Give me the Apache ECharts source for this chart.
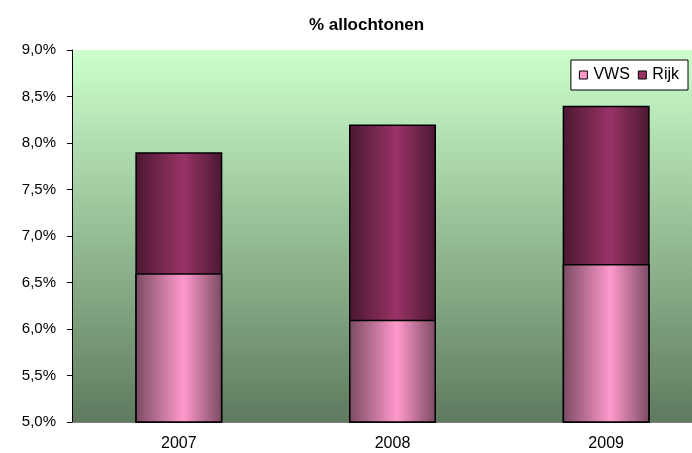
<!DOCTYPE html>
<html>
<head>
<meta charset="utf-8">
<script src="https://cdn.jsdelivr.net/npm/echarts@6/dist/echarts.min.js"></script>
<style>
  html, body { margin: 0; padding: 0; background: #fff; overflow: hidden; }
  /* the original chart is wider than the picture and is cut off on the right */
  #main { width: 733px; height: 453px; }
</style>
</head>
<body>
<div id="main"></div>
<script>
// data
var years = ['2007', '2008', '2009']
var vws = [6.6, 6.1, 6.7]
var rijk = [7.9, 8.2, 8.4]

function pct (v) {
  return v.toFixed(1).replace('.', ',') + '%'
}

// horizontal "cylinder" shading for bars
function shade (edge, mid) {
  return new echarts.graphic.LinearGradient(0, 0, 1, 0, [
    { offset: 0, color: edge },
    { offset: 0.55, color: mid },
    { offset: 1, color: edge }
  ])
}

var myChart = echarts.init(document.getElementById('main'))

var option = {
  animation: false,
  title: {
    text: '% allochtonen',
    left: 'center',
    top: 12,
    textStyle: {
      fontFamily: 'Liberation Sans',
      fontSize: 17,
      fontWeight: 'bold',
      color: '#000'
    }
  },
  legend: {
    right: 45,
    top: 60,
    orient: 'horizontal',
    backgroundColor: '#fff',
    borderColor: '#000',
    borderWidth: 1,
    borderRadius: 0,
    padding: [7, 9, 7, 8],
    itemWidth: 8,
    itemHeight: 8,
    itemGap: 8,
    textStyle: { fontFamily: 'Liberation Sans', fontSize: 16, color: '#000', padding: [0, 0, 0, 1] },
    data: [
      { name: 'VWS', icon: 'rect', itemStyle: { color: '#ff99cc', borderColor: '#000', borderWidth: 1 } },
      { name: 'Rijk', icon: 'rect', itemStyle: { color: '#993366', borderColor: '#000', borderWidth: 1 } }
    ]
  },
  grid: {
    left: 72,
    right: 20,
    top: 50,
    bottom: 31,
    show: true,
    borderWidth: 0,
    backgroundColor: new echarts.graphic.LinearGradient(0, 0, 0, 1, [
      { offset: 0, color: '#ccffcc' },
      { offset: 1, color: '#5f7a5f' }
    ])
  },
  xAxis: {
    type: 'category',
    data: years,
    axisLine: { lineStyle: { color: '#808080', width: 1 } },
    axisTick: { show: false },
    axisLabel: { fontFamily: 'Liberation Sans', fontSize: 16, color: '#000', margin: 14 }
  },
  yAxis: {
    type: 'value',
    min: 5,
    max: 9,
    interval: 0.5,
    splitLine: { show: false },
    axisLine: { show: true, lineStyle: { color: '#000', width: 1 } },
    axisTick: { show: true, length: 5, lineStyle: { color: '#000' } },
    axisLabel: {
      fontFamily: 'Liberation Sans',
      fontSize: 15,
      color: '#000',
      margin: 16,
      formatter: pct
    }
  },
  series: [
    {
      name: 'Rijk',
      type: 'bar',
      data: rijk,
      barWidth: 87,
      barGap: '-100%',
      z: 2,
      itemStyle: {
        color: shade('#4a1832', '#993366'),
        borderColor: '#000',
        borderWidth: 1.5
      }
    },
    {
      name: 'VWS',
      type: 'bar',
      data: vws,
      barWidth: 87,
      barGap: '-100%',
      z: 3,
      itemStyle: {
        color: shade('#7a4a62', '#ff99cc'),
        borderColor: '#000',
        borderWidth: 1.5
      }
    }
  ]
}

myChart.setOption(option)
</script>
</body>
</html>
